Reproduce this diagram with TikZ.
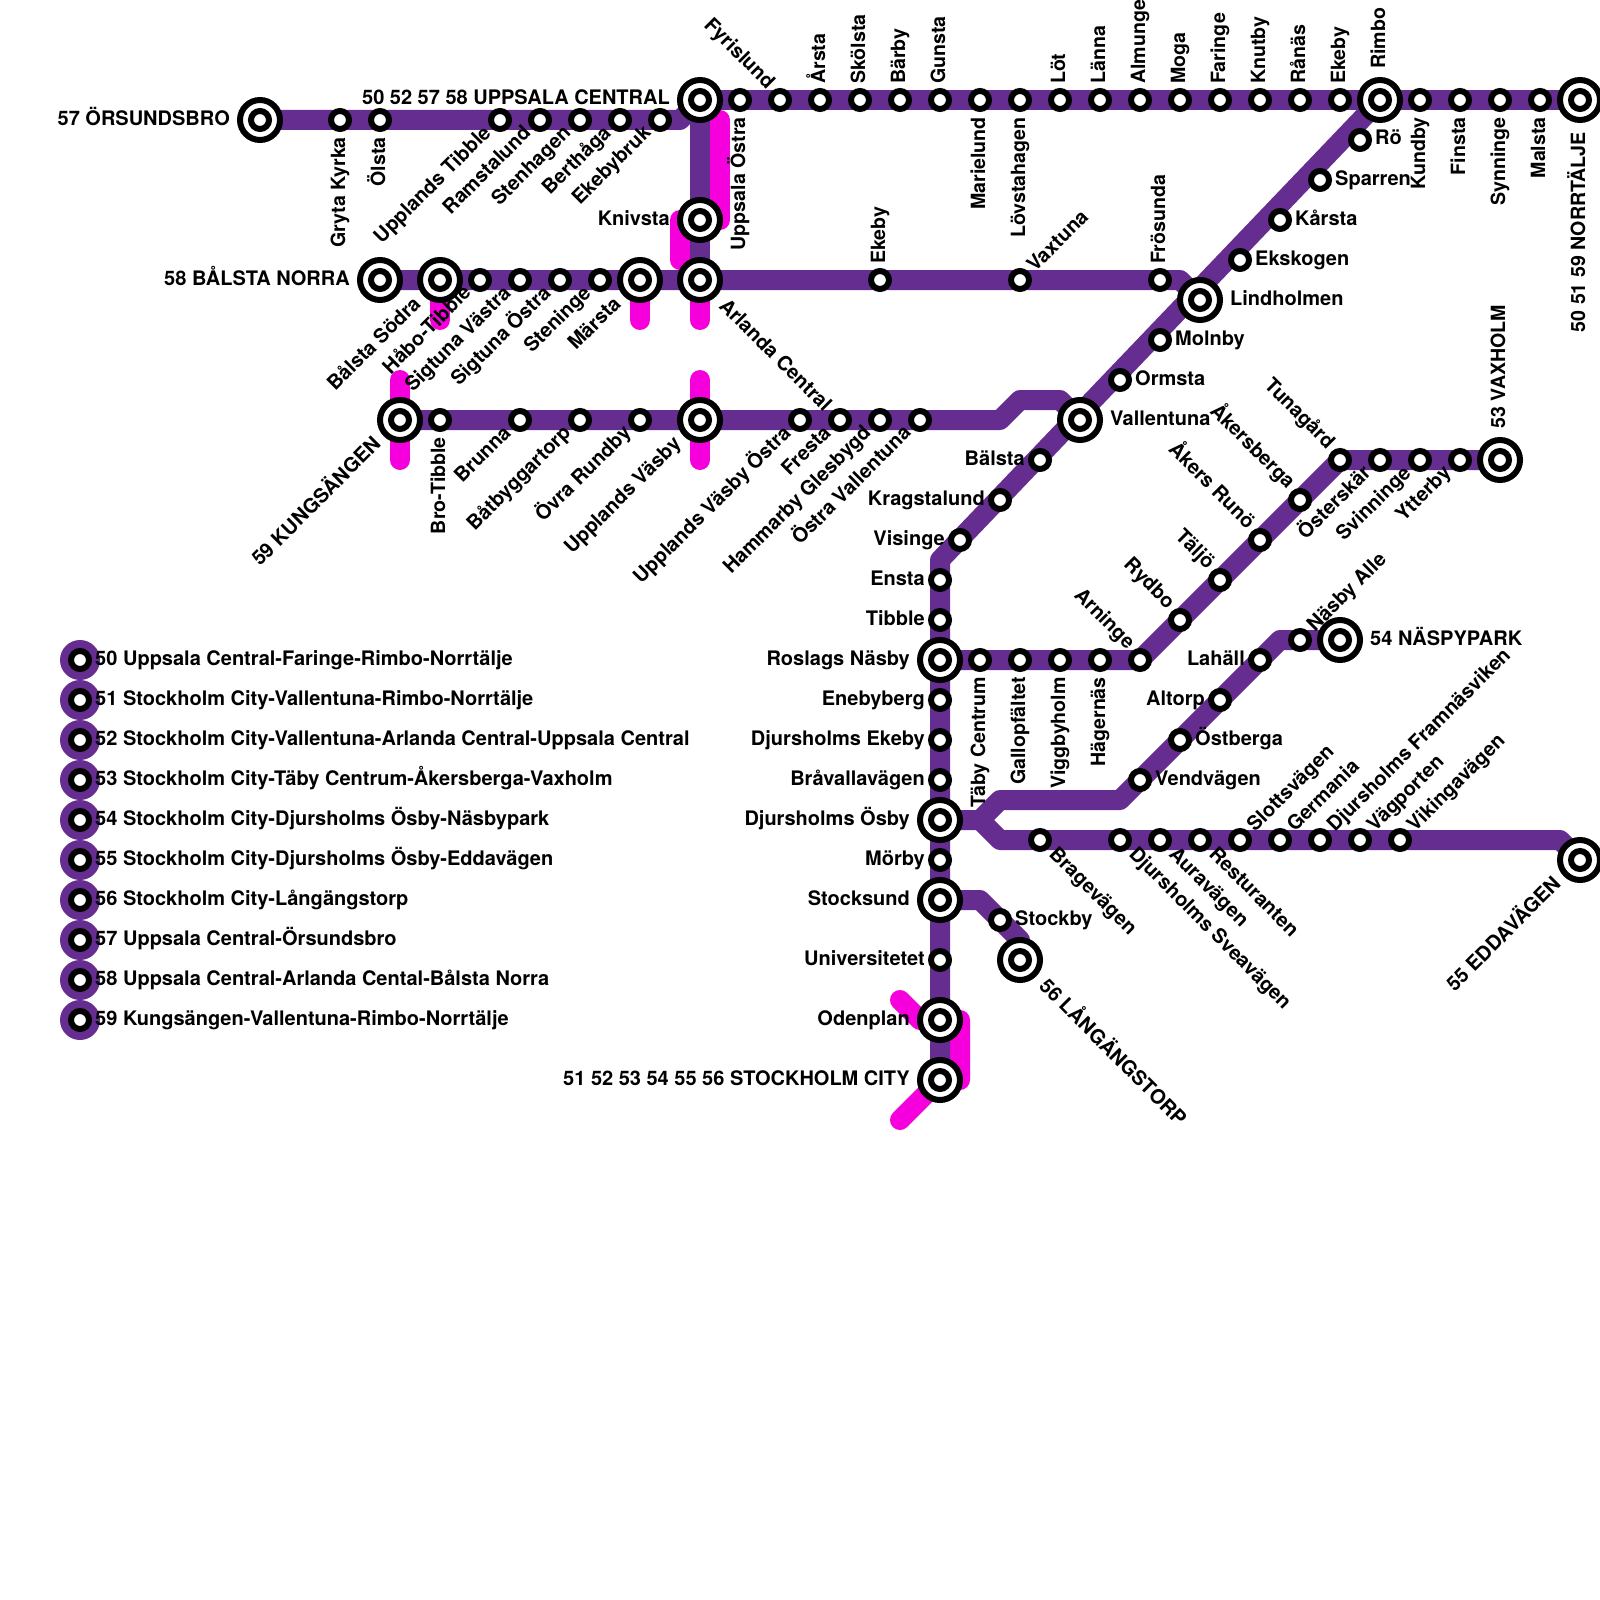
\documentclass[tikz,border=0pt]{standalone}
\usepackage{fontspec}
\setmainfont{TeX Gyre Heros}
\usetikzlibrary{calc}
\definecolor{linepurple}{HTML}{652D90}
\definecolor{linemagenta}{HTML}{F500DC}
\pgfdeclarelayer{lines}
\pgfdeclarelayer{under}
\pgfsetlayers{under,lines,main}
\tikzset{
  lineP/.style={draw=linepurple,line width=20pt,line join=round},
  lineM/.style={draw=linemagenta,line width=20pt,line join=round,line cap=round},
  stn/.style={circle,draw=black,fill=white,line width=6pt,minimum size=18pt,inner sep=0pt},
  bigstn/.style={circle,draw=black,fill=white,line width=6pt,minimum size=40pt,inner sep=0pt},
  legdot/.style={circle,fill=linepurple,minimum size=40pt,inner sep=0pt},
  lbl/.style={inner sep=0pt,font=\fontsize{20}{22}\selectfont\bfseries,text=black},
  lblv/.style={inner sep=0pt,font=\fontsize{19.6}{22}\selectfont\bfseries,text=black},
}
\newcommand{\sta}[3]{\node[stn] (#1) at (#2,#3) {};}
\newcommand{\bigsta}[3]{\node[bigstn] (#1) at (#2,#3) {};\node[stn] (#1-i) at (#2,#3) {};}
\newcommand{\lab}[6]{\node[lbl,rotate=#1,anchor=#2] (#3-l) at ($(#3.center)+(#4,#5)$) {#6};}
\newcommand{\labv}[5]{\node[lblv,rotate=90,anchor=#1] (#2-l) at ($(#2.center)+(#3,#4)$) {#5};}
% small stations
\newcommand{\labU}[2]{\labv{base west}{#1}{5}{-16}{#2}}
\newcommand{\labD}[2]{\labv{base east}{#1}{5}{17}{#2}}
\newcommand{\labL}[2]{\lab{0}{base east}{#1}{-15}{5}{#2}}
\newcommand{\labR}[2]{\lab{0}{base west}{#1}{15}{5}{#2}}
\newcommand{\labDL}[2]{\lab{45}{base east}{#1}{-8}{14}{#2}}
\newcommand{\labUR}[2]{\lab{45}{base west}{#1}{15}{-7}{#2}}
\newcommand{\labUL}[2]{\lab{-45}{base east}{#1}{-13}{-10}{#2}}
\newcommand{\labDR}[2]{\lab{-45}{base west}{#1}{8}{15}{#2}}
% big stations
\newcommand{\bigU}[2]{\labv{base west}{#1}{5}{-31}{#2}}
\newcommand{\bigD}[2]{\labv{base east}{#1}{5}{32}{#2}}
\newcommand{\bigL}[2]{\lab{0}{base east}{#1}{-30}{5}{#2}}
\newcommand{\bigR}[2]{\lab{0}{base west}{#1}{30}{5}{#2}}
\newcommand{\bigDL}[2]{\lab{45}{base east}{#1}{-18}{25}{#2}}
\newcommand{\bigDR}[2]{\lab{-45}{base west}{#1}{18}{27}{#2}}
\begin{document}
\begin{tikzpicture}[x=1pt,y=-1pt]
\useasboundingbox (0,0) rectangle (1600,1600);
\begin{pgfonlayer}{under}
\fill[white] (0,0) rectangle (1600,1600);
\end{pgfonlayer}

% Stations, line 50 top
\bigsta{upc}{700}{100}
\sta{uo}{740}{100}\sta{fyr}{780}{100}\sta{ars}{820}{100}\sta{sko}{860}{100}\sta{bar}{900}{100}
\sta{gun}{940}{100}\sta{mar}{980}{100}\sta{lov}{1020}{100}\sta{lot}{1060}{100}\sta{lan}{1100}{100}
\sta{alm}{1140}{100}\sta{mog}{1180}{100}\sta{far}{1220}{100}\sta{knu}{1260}{100}\sta{ran}{1300}{100}
\sta{eke}{1340}{100}\bigsta{rim}{1380}{100}\sta{kun}{1420}{100}\sta{fin}{1460}{100}\sta{syn}{1500}{100}
\sta{mal}{1540}{100}\bigsta{nor}{1580}{100}
\labD{uo}{Uppsala Östra}\labUL{fyr}{Fyrislund}\labU{ars}{Årsta}\labU{sko}{Skölsta}\labU{bar}{Bärby}
\labU{gun}{Gunsta}\labD{mar}{Marielund}\labD{lov}{Lövstahagen}\labU{lot}{Löt}\labU{lan}{Länna}
\labU{alm}{Almunge}\labU{mog}{Moga}\labU{far}{Faringe}\labU{knu}{Knutby}\labU{ran}{Rånäs}\labU{eke}{Ekeby}
\bigU{rim}{Rimbo}\labD{kun}{Kundby}\labD{fin}{Finsta}\labD{syn}{Synninge}\labD{mal}{Malsta}
\bigD{nor}{50 51 59 NORRTÄLJE}
\bigL{upc}{50 52 57 58 UPPSALA CENTRAL}

% line 57
\bigsta{ors}{260}{120}\sta{gry}{340}{120}\sta{ols}{380}{120}\sta{upt}{500}{120}\sta{ram}{540}{120}
\sta{ste}{580}{120}\sta{ber}{620}{120}\sta{ekb}{660}{120}
\coordinate (c57) at (680,120);
\bigL{ors}{57 ÖRSUNDSBRO}\labD{gry}{Gryta Kyrka}\labD{ols}{Ölsta}\labDL{upt}{Upplands Tibble}
\labDL{ram}{Ramstalund}\labDL{ste}{Stenhagen}\labDL{ber}{Berthåga}\labDL{ekb}{Ekebybruk}

% line 58
\bigsta{kni}{700}{220}\bigsta{arl}{700}{280}\bigsta{bno}{380}{280}\bigsta{bso}{440}{280}
\sta{hab}{480}{280}\sta{sve}{520}{280}\sta{sos}{560}{280}\sta{stn}{600}{280}\bigsta{mrs}{640}{280}
\sta{ekc}{880}{280}\sta{vax}{1020}{280}\sta{fro}{1160}{280}
\coordinate (c58) at (1180,280);
\bigL{kni}{Knivsta}\bigDR{arl}{Arlanda Central}\bigL{bno}{58 BÅLSTA NORRA}\bigDL{bso}{Bålsta Södra}
\labDL{hab}{Håbo-Tibble}\labDL{sve}{Sigtuna Västra}\labDL{sos}{Sigtuna Östra}\labDL{stn}{Steninge}
\bigDL{mrs}{Märsta}\labU{ekc}{Ekeby}\labUR{vax}{Vaxtuna}\labU{fro}{Frösunda}

% line 59 west
\bigsta{kun2}{400}{420}\sta{bro}{440}{420}\sta{bru}{520}{420}\sta{bat}{580}{420}\sta{ovr}{640}{420}
\bigsta{vas}{700}{420}\sta{vos}{800}{420}\sta{fre}{840}{420}\sta{ham}{880}{420}\sta{ova}{920}{420}
\coordinate (c59a) at (1000,420);\coordinate (c59b) at (1020,400);\coordinate (c59c) at (1060,400);
\bigDL{kun2}{59 KUNGSÄNGEN}\labD{bro}{Bro-Tibble}\labDL{bru}{Brunna}\labDL{bat}{Båtbyggartorp}
\labDL{ovr}{Övra Rundby}\bigDL{vas}{Upplands Väsby}\labDL{vos}{Upplands Väsby Östra}\labDL{fre}{Fresta}
\labDL{ham}{Hammarby Glesbygd}\labDL{ova}{Östra Vallentuna}

% main diagonal
\sta{ro}{1360}{140}\sta{spa}{1320}{180}\sta{kar}{1280}{220}\sta{eks}{1240}{260}\bigsta{lin}{1200}{300}
\sta{mol}{1160}{340}\sta{orm}{1120}{380}\bigsta{val}{1080}{420}\sta{bal}{1040}{460}\sta{kra}{1000}{500}
\sta{vis}{960}{540}
\coordinate (cvis) at (940,560);
\labR{ro}{Rö}\labR{spa}{Sparren}\labR{kar}{Kårsta}\labR{eks}{Ekskogen}\bigR{lin}{Lindholmen}
\labR{mol}{Molnby}\labR{orm}{Ormsta}\bigR{val}{Vallentuna}\labL{bal}{Bälsta}\labL{kra}{Kragstalund}\labL{vis}{Visinge}

% trunk
\sta{ens}{940}{580}\sta{tib}{940}{620}\bigsta{ros}{940}{660}\sta{ene}{940}{700}\sta{dek}{940}{740}
\sta{bra}{940}{780}\bigsta{dos}{940}{820}\sta{mor}{940}{860}\bigsta{sto}{940}{900}\sta{uni}{940}{960}
\bigsta{ode}{940}{1020}\bigsta{cit}{940}{1080}
\labL{ens}{Ensta}\labL{tib}{Tibble}\bigL{ros}{Roslags Näsby}\labL{ene}{Enebyberg}\labL{dek}{Djursholms Ekeby}
\labL{bra}{Bråvallavägen}\bigL{dos}{Djursholms Ösby}\labL{mor}{Mörby}\bigL{sto}{Stocksund}\labL{uni}{Universitetet}
\bigL{ode}{Odenplan}\bigL{cit}{51 52 53 54 55 56 STOCKHOLM CITY}

% line 53
\sta{tab}{980}{660}\sta{gal}{1020}{660}\sta{vig}{1060}{660}\sta{hag}{1100}{660}\sta{arn}{1140}{660}
\sta{ryd}{1180}{620}\sta{taj}{1220}{580}\sta{aru}{1260}{540}\sta{ake}{1300}{500}\sta{tun}{1340}{460}
\sta{ost}{1380}{460}\sta{svi}{1420}{460}\sta{ytt}{1460}{460}\bigsta{vxh}{1500}{460}
\labD{tab}{Täby Centrum}\labD{gal}{Gallopfältet}\labD{vig}{Viggbyholm}\labD{hag}{Hägernäs}\labUL{arn}{Arninge}
\labUL{ryd}{Rydbo}\labUL{taj}{Täljö}\labUL{aru}{Åkers Runö}\labUL{ake}{Åkersberga}\labUL{tun}{Tunagård}
\labDL{ost}{Österskär}\labDL{svi}{Svinninge}\labDL{ytt}{Ytterby}\bigU{vxh}{53 VAXHOLM}

% line 54
\coordinate (cfork) at (980,820);\coordinate (c54a) at (1000,800);\coordinate (c54b) at (1120,800);
\sta{ven}{1140}{780}\sta{osb}{1180}{740}\sta{alt}{1220}{700}\sta{lah}{1260}{660}
\coordinate (c54c) at (1280,640);
\sta{nas}{1300}{640}\bigsta{nyp}{1340}{640}
\labR{ven}{Vendvägen}\labR{osb}{Östberga}\labL{alt}{Altorp}\labL{lah}{Lahäll}\labUR{nas}{Näsby Alle}\bigR{nyp}{54 NÄSPYPARK}

% line 55
\coordinate (c55a) at (1000,840);
\sta{brg}{1040}{840}\sta{dsv}{1120}{840}\sta{aur}{1160}{840}\sta{res}{1200}{840}\sta{slo}{1240}{840}
\sta{ger}{1280}{840}\sta{dfr}{1320}{840}\sta{vag}{1360}{840}\sta{vik}{1400}{840}
\coordinate (c55b) at (1560,840);
\bigsta{edd}{1580}{860}
\labDR{brg}{Bragevägen}\labDR{dsv}{Djursholms Sveavägen}\labDR{aur}{Auravägen}\labDR{res}{Resturanten}
\labUR{slo}{Slottsvägen}\labUR{ger}{Germania}\labUR{dfr}{Djursholms Framnäsviken}\labUR{vag}{Vägporten}\labUR{vik}{Vikingavägen}
\bigDL{edd}{55 EDDAVÄGEN}

% line 56
\coordinate (c56a) at (980,900);\coordinate (c56b) at (1020,940);
\sta{sby}{1000}{920}\bigsta{lan2}{1020}{960}
\labR{sby}{Stockby}\bigDR{lan2}{56 LÅNGÄNGSTORP}

% Magenta stubs
\coordinate (m1) at (720,120);\coordinate (m2) at (720,220);
\coordinate (m3) at (680,220);\coordinate (m4) at (680,260);
\coordinate (m5) at (640,320);\coordinate (m6) at (700,320);\coordinate (m7) at (440,320);
\coordinate (m8) at (700,380);\coordinate (m9) at (700,460);
\coordinate (m10) at (400,380);\coordinate (m11) at (400,460);
\coordinate (m12) at (900,1000);\coordinate (m13) at (920,1020);\coordinate (m14) at (960,1020);
\coordinate (m15) at (960,1080);\coordinate (m16) at (900,1120);
\begin{pgfonlayer}{under}
\draw[lineM] (m1) -- (m2);
\draw[lineM] (m3) -- (m4);
\draw[lineM] (mrs.center) -- (m5);
\draw[lineM] (arl.center) -- (m6);
\draw[lineM] (bso.center) -- (m7);
\draw[lineM] (m8) -- (m9);
\draw[lineM] (m10) -- (m11);
\draw[lineM] (m12) -- (m13) -- (m14) -- (m15) -- (cit.center) -- (m16);
\end{pgfonlayer}
\begin{pgfonlayer}{lines}
\draw[lineP] (upc.center) -- (nor.center);
\draw[lineP] (upc.center) -- (arl.center);
\draw[lineP] (ors.center) -- (c57) -- (upc.center);
\draw[lineP] (bno.center) -- (c58) -- (lin.center);
\draw[lineP] (kun2.center) -- (c59a) -- (c59b) -- (c59c) -- (val.center);
\draw[lineP] (rim.center) -- (cvis) -- (ens.center) -- (cit.center);
\draw[lineP] (ros.center) -- (arn.center) -- (tun.center) -- (vxh.center);
\draw[lineP] (dos.center) -- (cfork) -- (c54a) -- (c54b) -- (lah.center) -- (c54c) -- (nyp.center);
\draw[lineP] (cfork) -- (c55a) -- (c55b) -- (edd.center);
\draw[lineP] (sto.center) -- (c56a) -- (c56b) -- (lan2.center);
\end{pgfonlayer}

% Legend
\foreach \i/\yy/\txt in {0/660/{50 Uppsala Central-Faringe-Rimbo-Norrtälje},
 1/700/{51 Stockholm City-Vallentuna-Rimbo-Norrtälje},
 2/740/{52 Stockholm City-Vallentuna-Arlanda Central-Uppsala Central},
 3/780/{53 Stockholm City-Täby Centrum-Åkersberga-Vaxholm},
 4/820/{54 Stockholm City-Djursholms Ösby-Näsbypark},
 5/860/{55 Stockholm City-Djursholms Ösby-Eddavägen},
 6/900/{56 Stockholm City-Långängstorp},
 7/940/{57 Uppsala Central-Örsundsbro},
 8/980/{58 Uppsala Central-Arlanda Cental-Bålsta Norra},
 9/1020/{59 Kungsängen-Vallentuna-Rimbo-Norrtälje}}{
  \node[legdot] (leg\i) at (80,\yy) {};
  \node[stn] (leg\i-i) at (80,\yy) {};
  \node[lbl,anchor=base west] (leg\i-t) at (95,\yy+5) {\txt};
}
\end{tikzpicture}
\end{document}
